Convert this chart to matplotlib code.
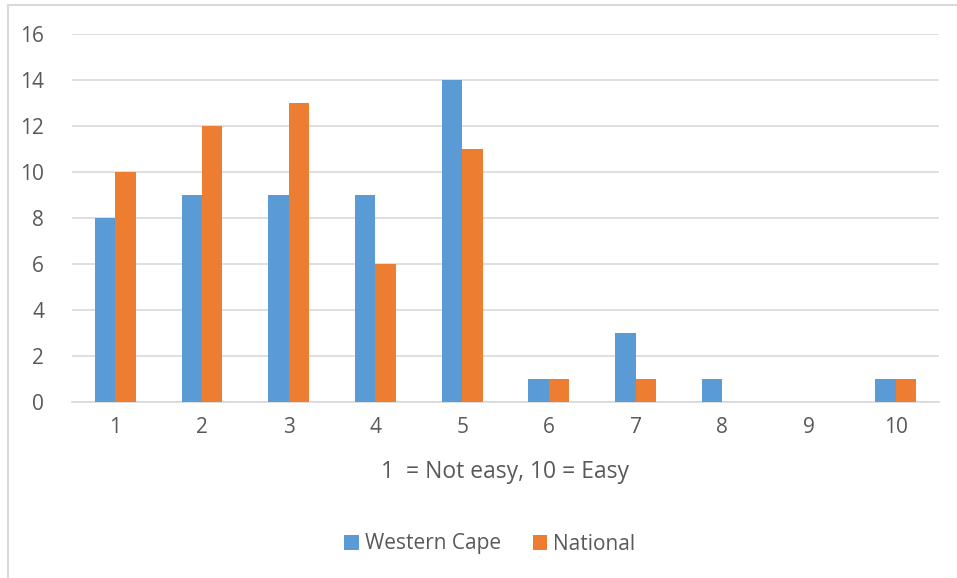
import matplotlib
matplotlib.use("Agg")
import matplotlib.pyplot as plt
import numpy as np

# ratings 1..10
ratings = [1, 2, 3, 4, 5, 6, 7, 8, 9, 10]
western_cape = [8, 9, 9, 9, 14, 1, 3, 1, 0, 1]
national = [10, 12, 13, 6, 11, 1, 1, 0, 0, 1]
y_ticks = [0, 2, 4, 6, 8, 10, 12, 14, 16]

plt.rcParams['font.family'] = ['Open Sans', 'DejaVu Sans']
txt = '#595959'
grid = '#d9d9d9'

fig = plt.figure(figsize=(9.57, 5.78), dpi=100)
ax = fig.add_axes([72/957, 1-402/578, (939-72)/957, (402-34)/578])

x = np.array(ratings)
w = 0.235
ax.bar(x - w/2, western_cape, w, color='#5b9bd5', label='Western Cape', zorder=3)
ax.bar(x + w/2, national, w, color='#ed7d31', label='National', zorder=3)

ax.set_xlim(0.5, 10.5)
ax.set_ylim(0, 16)
ax.set_xticks(ratings)
ax.set_yticks(y_ticks)
ax.yaxis.grid(True, color=grid, linewidth=1.2, zorder=0)
ax.tick_params(axis='both', length=0, labelsize=15, colors=txt)
ax.tick_params(axis='y', pad=20)
ax.tick_params(axis='x', pad=11)
for s in ['top', 'right', 'left']:
    ax.spines[s].set_visible(False)
ax.spines['bottom'].set_color(grid)
ax.spines['bottom'].set_linewidth(1.2)

ax.set_xlabel('1  = Not easy, 10 = Easy', fontsize=16.5, color=txt, labelpad=16)

fig.legend(loc='center', bbox_to_anchor=(0.512, 1-544/578), ncol=2, frameon=False,
           fontsize=15, labelcolor=txt, handlelength=0.7, handleheight=0.7,
           handletextpad=0.3, columnspacing=1.5)

# chart area border (top and left visible)
fig.add_artist(plt.Line2D([8/957, 1], [1-5/578, 1-5/578], color=grid, linewidth=1.5))
fig.add_artist(plt.Line2D([8/957, 8/957], [0, 1-5/578], color=grid, linewidth=1.5))

fig.savefig('out.png', dpi=100)
